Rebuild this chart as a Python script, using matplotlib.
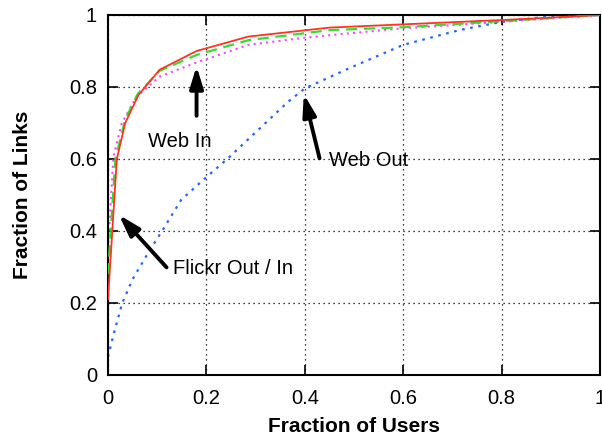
import matplotlib
matplotlib.use('Agg')
import matplotlib.pyplot as plt

plt.rcParams['font.family'] = ['Liberation Sans', 'DejaVu Sans']

# CDF curves
flickr_out_x = [0, 0.018, 0.035, 0.062, 0.105, 0.18, 0.285, 0.45, 0.6, 0.8, 0.86, 1.0]
flickr_out_y = [0.21, 0.60, 0.70, 0.778, 0.848, 0.90, 0.94, 0.965, 0.974, 0.986, 0.99, 1.0]

flickr_in_x = [0, 0.015, 0.035, 0.06, 0.105, 0.18, 0.285, 0.45, 0.6, 0.8, 1.0]
flickr_in_y = [0.28, 0.60, 0.71, 0.78, 0.845, 0.889, 0.93, 0.958, 0.966, 0.983, 1.0]

web_in_x = [0, 0.011, 0.028, 0.058, 0.105, 0.18, 0.285, 0.4, 0.49, 0.6, 0.8, 1.0]
web_in_y = [0.35, 0.606, 0.699, 0.773, 0.829, 0.868, 0.917, 0.937, 0.949, 0.963, 0.981, 1.0]

web_out_x = [0, 0.012, 0.029, 0.05, 0.085, 0.109, 0.149, 0.197, 0.244, 0.366, 0.4,
             0.49, 0.6, 0.714, 0.8, 0.89, 1.0]
web_out_y = [0.05, 0.116, 0.2, 0.266, 0.347, 0.398, 0.487, 0.546, 0.602, 0.759, 0.796,
             0.852, 0.917, 0.958, 0.981, 0.995, 1.0]

ticks = [0, 0.2, 0.4, 0.6, 0.8, 1]
tick_labels = ['0', '0.2', '0.4', '0.6', '0.8', '1']

fig = plt.figure(figsize=(6.02, 4.38), dpi=100)
ax = fig.add_axes([108 / 602, 1 - 375 / 438, 492 / 602, 360 / 438])

ax.plot(flickr_out_x, flickr_out_y, color='#ff3322', lw=1.3, zorder=4)
ax.plot(flickr_in_x, flickr_in_y, color='#33dd33', lw=1.6, ls=(0, (5, 3)), zorder=3)
ax.plot(web_in_x, web_in_y, color='#ff44ff', lw=1.5, ls=(0, (1, 2)), zorder=2)
ax.plot(web_out_x, web_out_y, color='#2266ff', lw=1.6, ls=(0, (1.2, 2.5)), zorder=2)

ax.set_xlim(0, 1)
ax.set_ylim(0, 1)
ax.set_xticks(ticks)
ax.set_xticklabels(tick_labels)
ax.set_yticks(ticks)
ax.set_yticklabels(tick_labels)
ax.tick_params(direction='in', length=7, width=1.2, top=True, right=True,
               labelsize=14.5)
ax.tick_params(axis='x', pad=10)
ax.tick_params(axis='y', pad=8)
ax.grid(True, color='black', ls=(0, (1, 3)), lw=0.9)
for s in ax.spines.values():
    s.set_linewidth(1.5)

ax.set_xlabel('Fraction of Users', fontsize=15, fontweight='bold', va='center')
ax.set_ylabel('Fraction of Links', fontsize=15, fontweight='bold', va='center')
ax.xaxis.set_label_coords(0.499, -0.144)
ax.yaxis.set_label_coords(-0.173, 0.5)

arrow = dict(arrowstyle='-|>,head_width=0.4,head_length=1.3', lw=2.8, color='black',
             shrinkA=0, shrinkB=0)
ax.annotate('', xy=(0.18, 0.858), xytext=(0.18, 0.72), arrowprops=arrow)
ax.annotate('', xy=(0.398, 0.78), xytext=(0.43, 0.602), arrowprops=arrow)
ax.annotate('', xy=(0.022, 0.445), xytext=(0.119, 0.299), arrowprops=arrow)

ax.text(0.081, 0.648, 'Web In', fontsize=14.5, va='center', ha='left')
ax.text(0.45, 0.597, 'Web Out', fontsize=14.5, va='center', ha='left')
ax.text(0.1325, 0.296, 'Flickr Out / In', fontsize=14.5, va='center', ha='left')

fig.savefig('out.png', dpi=100)
